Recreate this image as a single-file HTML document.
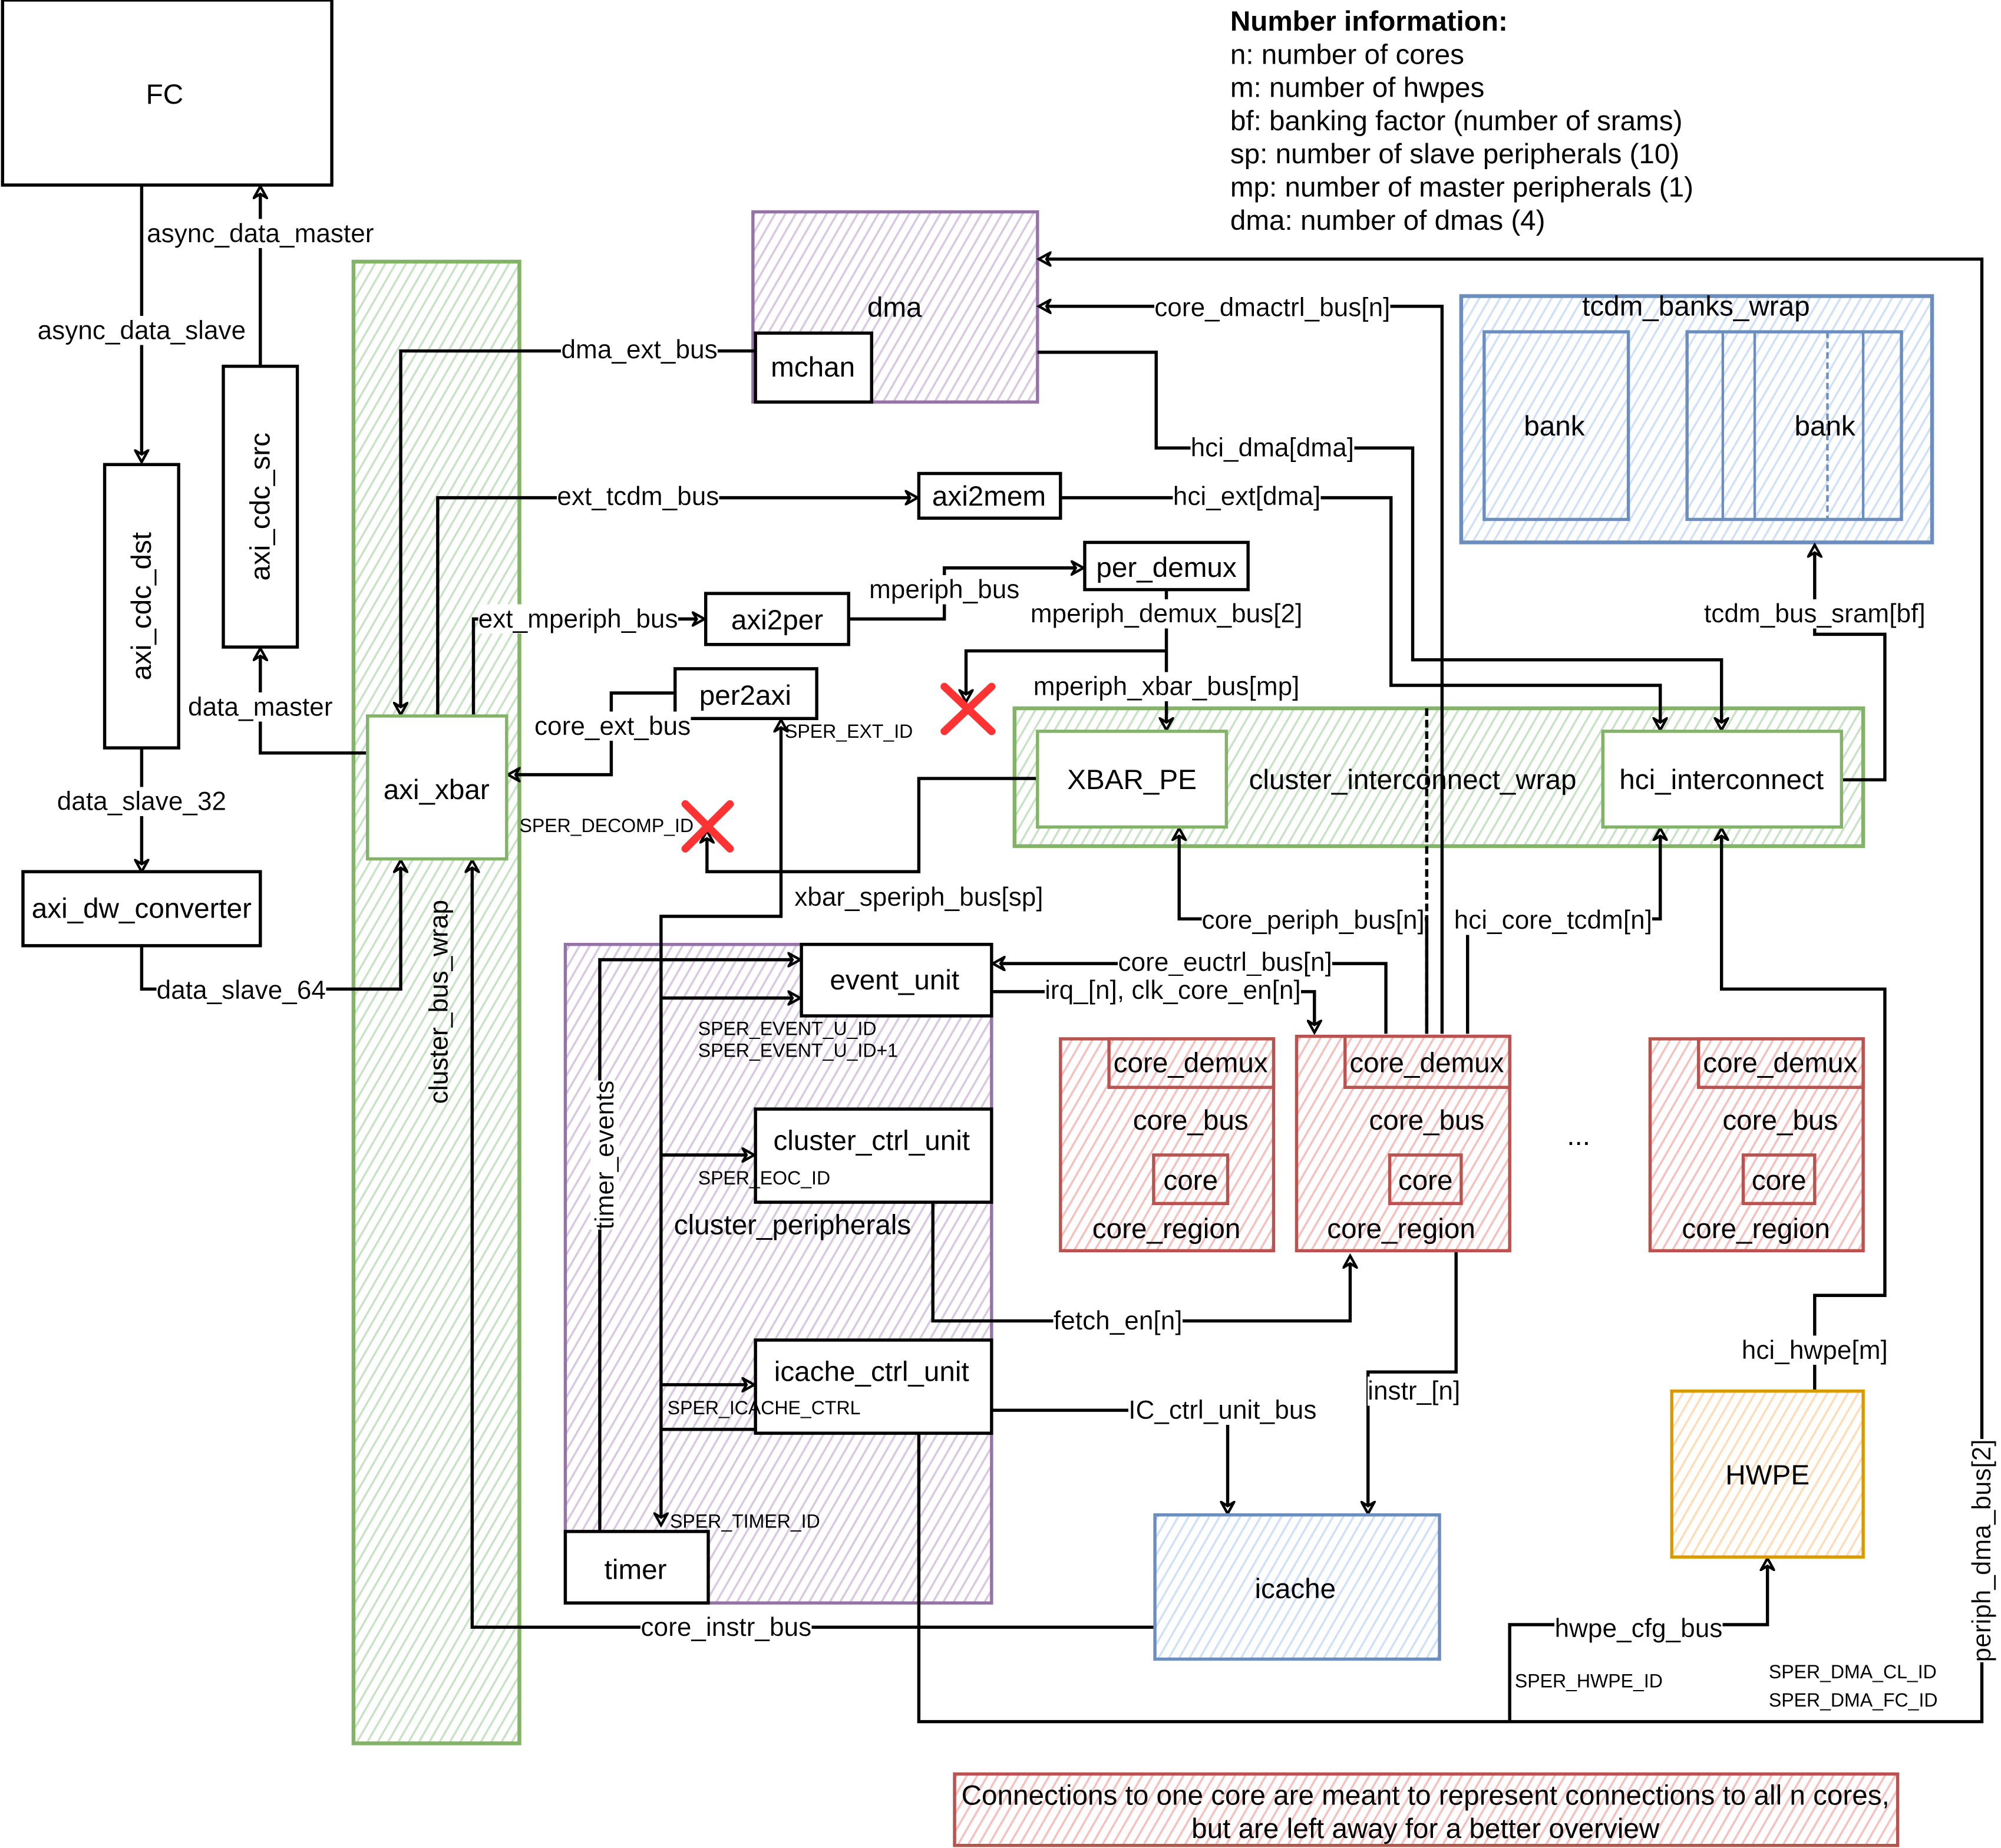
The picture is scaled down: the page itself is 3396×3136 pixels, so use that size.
<!DOCTYPE html>
<html><head><meta charset="utf-8"><style>
html,body{margin:0;padding:0;background:#fff}
svg{display:block}
text{font-family:"Liberation Sans",sans-serif;fill:#000}
.n{font-size:22px;text-anchor:middle;dominant-baseline:central}
.l{font-size:20.4px;text-anchor:middle;dominant-baseline:central}
.s{font-size:14.8px;dominant-baseline:central}
.w{stroke:#000;stroke-width:2.5;fill:none}
</style></head><body>
<svg width="3396" height="3136" viewBox="0 0 1568 1448" preserveAspectRatio="none" xmlns="http://www.w3.org/2000/svg">
<defs>
<filter id="bg" x="0" y="0" width="1" height="1"><feFlood flood-color="#fff"/><feComposite in="SourceGraphic"/></filter>
<pattern id="hg" width="7" height="7" patternUnits="userSpaceOnUse" patternTransform="rotate(30)"><rect width="7" height="7" fill="#fff"/><line x1="0" y1="0" x2="0" y2="7" stroke="#c8e2c6" stroke-width="3.2"/></pattern>
<pattern id="hp" width="7" height="7" patternUnits="userSpaceOnUse" patternTransform="rotate(30)"><rect width="7" height="7" fill="#fff"/><line x1="0" y1="0" x2="0" y2="7" stroke="#d8c8e0" stroke-width="3.2"/></pattern>
<pattern id="hb" width="7" height="7" patternUnits="userSpaceOnUse" patternTransform="rotate(30)"><rect width="7" height="7" fill="#fff"/><line x1="0" y1="0" x2="0" y2="7" stroke="#cfe0f8" stroke-width="3.2"/></pattern>
<pattern id="hr" width="7" height="7" patternUnits="userSpaceOnUse" patternTransform="rotate(30)"><rect width="7" height="7" fill="#fff"/><line x1="0" y1="0" x2="0" y2="7" stroke="#f5c0bd" stroke-width="3.2"/></pattern>
<pattern id="ho" width="7" height="7" patternUnits="userSpaceOnUse" patternTransform="rotate(30)"><rect width="7" height="7" fill="#fff"/><line x1="0" y1="0" x2="0" y2="7" stroke="#ffdcb8" stroke-width="3.2"/></pattern>
<marker id="a" markerWidth="12" markerHeight="12" refX="10" refY="6" orient="auto" markerUnits="userSpaceOnUse"><path d="M1,1 L10,6 L1,11 L4,6 Z" fill="#fff" stroke="#000" stroke-width="2"/></marker>
</defs>

<rect x="277" y="205" width="130" height="1161" fill="url(#hg)" stroke="#82b366" stroke-width="3"/>
<text class="l" transform="translate(344,785) rotate(-90)">cluster_bus_wrap</text>
<rect x="590" y="166" width="223" height="149" fill="url(#hp)" stroke="#9673a6" stroke-width="2.5"/>
<text class="n" x="701" y="241">dma</text>
<rect x="795" y="555" width="665" height="108" fill="url(#hg)" stroke="#82b366" stroke-width="3"/>
<rect x="1145" y="232" width="369" height="193" fill="url(#hb)" stroke="#6c8ebf" stroke-width="3"/>
<text class="n" x="1329" y="240">tcdm_banks_wrap</text>
<rect x="443" y="740" width="334" height="516" fill="url(#hp)" stroke="#9673a6" stroke-width="2.5"/>
<text class="n" x="621" y="960">cluster_peripherals</text>

<g class="w">
<path d="M111,145 V362" marker-end="url(#a)"/>
<path d="M204,287 V146" marker-end="url(#a)"/>
<path d="M288,590 H204 V508" marker-end="url(#a)"/>
<path d="M111,586 V683" marker-end="url(#a)"/>
<path d="M111,741 V775 H314 V674" marker-end="url(#a)"/>
<path d="M592,275 H314 V560" marker-end="url(#a)"/>
<path d="M343,561 V390 H719" marker-end="url(#a)"/>
<path d="M831,390 H1090 V537 H1301 V572" marker-end="url(#a)"/>
<path d="M813,276 H906 V351 H1107 V517 H1349 V572" marker-end="url(#a)"/>
<path d="M371,561 V485 H552" marker-end="url(#a)"/>
<path d="M665,485 H740 V445 H849" marker-end="url(#a)"/>
<path d="M914,462 V572" marker-end="url(#a)"/>
<path d="M914,510 H757 V550" marker-end="url(#a)"/>
<path d="M529,543 H479 V607 H398" marker-end="url(#a)"/>
<path d="M612,683 V564" marker-end="url(#a)"/>
<path d="M612,683 H554 V651" marker-end="url(#a)"/>
<path d="M813,610 H720 V683 H612 V718 H518 V1195" marker-end="url(#a)"/>
<path d="M518,782 H627" marker-end="url(#a)"/>
<path d="M518,905 H591" marker-end="url(#a)"/>
<path d="M518,1085 H591" marker-end="url(#a)"/>
<path d="M470,1200 V752 H627" marker-end="url(#a)"/>
<path d="M1443,611 H1477 V497 H1422 V427" marker-end="url(#a)"/>
<path d="M1130,810 V240 H814" marker-end="url(#a)"/>
<path d="M720,1120 H518 M720,1120 V1349 H1553 V203 H814" marker-end="url(#a)"/>
<path d="M1118,810 V720 H924 V649" marker-end="url(#a)"/>
<path d="M1150,810 V720 H1301 V649" marker-end="url(#a)"/>
<path d="M1086,810 V755 H778" marker-end="url(#a)"/>
<path d="M777,777 H1030 V809" marker-end="url(#a)"/>
<path d="M731,942 V1035 H1058 V984" marker-end="url(#a)"/>
<path d="M777,1105 H962 V1186" marker-end="url(#a)"/>
<path d="M1141,980 V1075 H1072 V1186" marker-end="url(#a)"/>
<path d="M905,1275 H370 V674" marker-end="url(#a)"/>
<path d="M1422,1090 V1015 H1477 V775 H1349 V649" marker-end="url(#a)"/>
<path d="M1183,1349 V1273 H1385 V1221" marker-end="url(#a)"/>
</g>
<line x1="1118" y1="555" x2="1118" y2="810" stroke="#000" stroke-width="2.5" stroke-dasharray="6,3"/>

<rect x="2" y="0" width="258" height="145" fill="#fff" stroke="#000" stroke-width="2.5"/>
<text class="n" x="129" y="74">FC</text>
<rect x="82" y="364" width="58" height="222" fill="#fff" stroke="#000" stroke-width="2.5"/>
<text class="n" transform="translate(111,475) rotate(-90)">axi_cdc_dst</text>
<rect x="175" y="287" width="58" height="220" fill="#fff" stroke="#000" stroke-width="2.5"/>
<text class="n" transform="translate(204,397) rotate(-90)">axi_cdc_src</text>
<rect x="18" y="683" width="186" height="58" fill="#fff" stroke="#000" stroke-width="2.5"/>
<text class="n" x="111" y="712">axi_dw_converter</text>
<rect x="288" y="561" width="109" height="112" fill="#fff" stroke="#82b366" stroke-width="2.5"/>
<text class="n" x="342" y="619">axi_xbar</text>
<rect x="592" y="261" width="91" height="54" fill="#fff" stroke="#000" stroke-width="2.5"/>
<text class="n" x="637" y="288">mchan</text>
<rect x="720" y="371" width="111" height="35" fill="#fff" stroke="#000" stroke-width="2.5"/>
<text class="n" x="775" y="389">axi2mem</text>
<rect x="553" y="465" width="112" height="40" fill="#fff" stroke="#000" stroke-width="2.5"/>
<text class="n" x="609" y="486">axi2per</text>
<rect x="850" y="425" width="128" height="37" fill="#fff" stroke="#000" stroke-width="2.5"/>
<text class="n" x="914" y="445">per_demux</text>
<rect x="529" y="524" width="111" height="39" fill="#fff" stroke="#000" stroke-width="2.5"/>
<text class="n" x="584" y="545">per2axi</text>
<rect x="813" y="573" width="148" height="75" fill="#fff" stroke="#82b366" stroke-width="2.5"/>
<text class="n" x="887" y="611">XBAR_PE</text>
<text class="n" x="1107" y="611">cluster_interconnect_wrap</text>
<rect x="1256" y="573" width="187" height="75" fill="#fff" stroke="#82b366" stroke-width="2.5"/>
<text class="n" x="1349" y="611">hci_interconnect</text>
<rect x="1163" y="260" width="113" height="147" fill="url(#hb)" stroke="#6c8ebf" stroke-width="2.5"/>
<text class="n" x="1218" y="334">bank</text>
<rect x="1322" y="260" width="168" height="147" fill="url(#hb)" stroke="#6c8ebf" stroke-width="2.5"/>
<line x1="1350" y1="260" x2="1350" y2="407" stroke="#6c8ebf" stroke-width="2"/>
<line x1="1375" y1="260" x2="1375" y2="407" stroke="#6c8ebf" stroke-width="2"/>
<line x1="1432" y1="260" x2="1432" y2="407" stroke="#6c8ebf" stroke-width="2" stroke-dasharray="5,3"/>
<line x1="1460" y1="260" x2="1460" y2="407" stroke="#6c8ebf" stroke-width="2"/>
<text class="n" x="1430" y="334">bank</text>

<rect x="628" y="740" width="149" height="56" fill="#fff" stroke="#000" stroke-width="2.5"/>
<text class="n" x="701" y="768">event_unit</text>
<rect x="592" y="869" width="185" height="73" fill="#fff" stroke="#000" stroke-width="2.5"/>
<text class="n" x="683" y="894">cluster_ctrl_unit</text>
<rect x="592" y="1050" width="185" height="73" fill="#fff" stroke="#000" stroke-width="2.5"/>
<text class="n" x="683" y="1075">icache_ctrl_unit</text>
<rect x="443" y="1200" width="112" height="56" fill="#fff" stroke="#000" stroke-width="2.5"/>
<text class="n" x="498" y="1230">timer</text>
<rect x="905" y="1187" width="223" height="113" fill="url(#hb)" stroke="#6c8ebf" stroke-width="2.5"/>
<text class="n" x="1015" y="1245">icache</text>
<rect x="1310" y="1090" width="150" height="130" fill="url(#ho)" stroke="#d79b00" stroke-width="2.5"/>
<text class="n" x="1385" y="1156">HWPE</text>

<g>
<rect x="831" y="814" width="167" height="166" fill="url(#hr)" stroke="#b85450" stroke-width="2.5"/>
<rect x="869" y="814" width="129" height="38" fill="url(#hr)" stroke="#b85450" stroke-width="2.5"/>
<text class="n" x="933" y="833">core_demux</text><text class="n" x="933" y="878">core_bus</text>
<rect x="904" y="905" width="58" height="38" fill="url(#hr)" stroke="#b85450" stroke-width="2.5"/>
<text class="n" x="933" y="925">core</text><text class="n" x="914" y="963">core_region</text>
<rect x="1016" y="812" width="167" height="168" fill="url(#hr)" stroke="#b85450" stroke-width="2.5"/>
<rect x="1054" y="812" width="129" height="40" fill="url(#hr)" stroke="#b85450" stroke-width="2.5"/>
<text class="n" x="1118" y="833">core_demux</text><text class="n" x="1118" y="878">core_bus</text>
<rect x="1089" y="905" width="56" height="38" fill="url(#hr)" stroke="#b85450" stroke-width="2.5"/>
<text class="n" x="1117" y="925">core</text><text class="n" x="1098" y="963">core_region</text>
<rect x="1293" y="814" width="167" height="166" fill="url(#hr)" stroke="#b85450" stroke-width="2.5"/>
<rect x="1331" y="814" width="129" height="38" fill="url(#hr)" stroke="#b85450" stroke-width="2.5"/>
<text class="n" x="1395" y="833">core_demux</text><text class="n" x="1395" y="878">core_bus</text>
<rect x="1366" y="905" width="56" height="38" fill="url(#hr)" stroke="#b85450" stroke-width="2.5"/>
<text class="n" x="1394" y="925">core</text><text class="n" x="1376" y="963">core_region</text>
<text class="n" x="1237" y="890">...</text>
</g>

<g>
<text class="l" x="204" y="183" filter="url(#bg)">async_data_master</text>
<text class="l" x="111" y="259" filter="url(#bg)">async_data_slave</text>
<text class="l" x="204" y="554" filter="url(#bg)">data_master</text>
<text class="l" x="111" y="628" filter="url(#bg)">data_slave_32</text>
<text class="l" x="189" y="776" filter="url(#bg)">data_slave_64</text>
<text class="l" x="501" y="274" filter="url(#bg)">dma_ext_bus</text>
<text class="l" x="500" y="389" filter="url(#bg)">ext_tcdm_bus</text>
<text class="l" x="453" y="485" filter="url(#bg)">ext_mperiph_bus</text>
<text class="l" x="740" y="462" filter="url(#bg)">mperiph_bus</text>
<text class="l" x="914" y="481" filter="url(#bg)">mperiph_demux_bus[2]</text>
<text class="l" x="914" y="538" filter="url(#bg)">mperiph_xbar_bus[mp]</text>
<text class="l" x="480" y="569" filter="url(#bg)">core_ext_bus</text>
<text class="l" x="720" y="703" filter="url(#bg)">xbar_speriph_bus[sp]</text>
<text class="l" x="997" y="241" filter="url(#bg)">core_dmactrl_bus[n]</text>
<text class="l" x="997" y="351" filter="url(#bg)">hci_dma[dma]</text>
<text class="l" x="977" y="389" filter="url(#bg)">hci_ext[dma]</text>
<text class="l" x="1422" y="481" filter="url(#bg)">tcdm_bus_sram[bf]</text>
<text class="l" x="1029" y="721" filter="url(#bg)">core_periph_bus[n]</text>
<text class="l" x="1217" y="721" filter="url(#bg)">hci_core_tcdm[n]</text>
<text class="l" x="960" y="754" filter="url(#bg)">core_euctrl_bus[n]</text>
<text class="l" x="919" y="776" filter="url(#bg)">irq_[n], clk_core_en[n]</text>
<text class="l" x="876" y="1035" filter="url(#bg)">fetch_en[n]</text>
<text class="l" x="958" y="1105" filter="url(#bg)">IC_ctrl_unit_bus</text>
<text class="l" x="1108" y="1090" filter="url(#bg)">instr_[n]</text>
<text class="l" x="569" y="1275" filter="url(#bg)">core_instr_bus</text>
<text class="l" x="1422" y="1058" filter="url(#bg)">hci_hwpe[m]</text>
<text class="l" x="1284" y="1276" filter="url(#bg)">hwpe_cfg_bus</text>
<text class="l" transform="translate(1553,1215) rotate(-90)" filter="url(#bg)">periph_dma_bus[2]</text>
<text class="l" transform="translate(474,905) rotate(-90)" filter="url(#bg)">timer_events</text>
</g>
<g>
<text class="s" x="615" y="573">SPER_EXT_ID</text>
<text class="s" x="407" y="647">SPER_DECOMP_ID</text>
<text class="s" x="547" y="806">SPER_EVENT_U_ID</text>
<text class="s" x="547" y="823">SPER_EVENT_U_ID+1</text>
<text class="s" x="547" y="923">SPER_EOC_ID</text>
<text class="s" x="523" y="1103">SPER_ICACHE_CTRL</text>
<text class="s" x="525" y="1192">SPER_TIMER_ID</text>
<text class="s" x="1187" y="1317">SPER_HWPE_ID</text>
<text class="s" x="1386" y="1310">SPER_DMA_CL_ID</text>
<text class="s" x="1386" y="1332">SPER_DMA_FC_ID</text>
</g>

<g stroke="#f33" stroke-width="6" stroke-linecap="round">
<path d="M740,538 L777,573 M777,538 L740,573"/>
<path d="M537,630 L572,665 M572,630 L537,665"/>
</g>

<g style="font-size:22px">
<text x="964" y="24" font-weight="bold">Number information:</text>
<text x="964" y="50">n: number of cores</text>
<text x="964" y="76">m: number of hwpes</text>
<text x="964" y="102">bf: banking factor (number of srams)</text>
<text x="964" y="128">sp: number of slave peripherals (10)</text>
<text x="964" y="154">mp: number of master peripherals (1)</text>
<text x="964" y="180">dma: number of dmas (4)</text>
</g>

<rect x="748" y="1390" width="739" height="56" fill="url(#hr)" stroke="#b85450" stroke-width="2.5"/>
<text class="n" x="1117" y="1407">Connections to one core are meant to represent connections to all n cores,</text>
<text class="n" x="1117" y="1433">but are left away for a better overview</text>
</svg>
</body></html>
